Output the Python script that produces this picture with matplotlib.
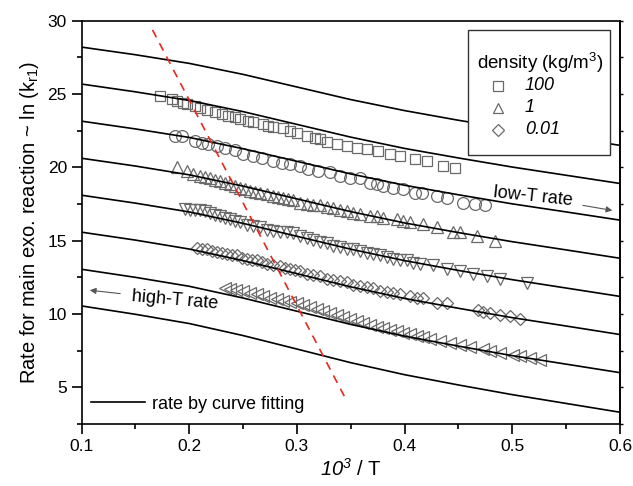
import matplotlib

matplotlib.use("Agg")
import matplotlib.pyplot as plt
from matplotlib.patches import Rectangle
from matplotlib.ticker import MultipleLocator

# fitted rate curves (read at x = 0.10 ... 0.60, step 0.05)
FIT_X = [0.10, 0.15, 0.20, 0.25, 0.30, 0.35, 0.40, 0.45, 0.50, 0.55, 0.60]
FIT_CURVES = [
    [28.20, 27.68, 27.09, 26.34, 25.48, 24.62, 23.87, 23.21, 22.61, 22.06, 21.50],
    [25.68, 25.15, 24.56, 23.80, 22.93, 22.06, 21.29, 20.64, 20.02, 19.46, 18.90],
    [23.15, 22.62, 22.04, 21.27, 20.41, 19.55, 18.78, 18.13, 17.51, 16.96, 16.40],
    [20.62, 20.09, 19.49, 18.72, 17.85, 16.98, 16.21, 15.55, 14.93, 14.37, 13.80],
    [18.10, 17.56, 16.96, 16.18, 15.30, 14.42, 13.64, 12.97, 12.34, 11.77, 11.20],
    [15.58, 15.04, 14.43, 13.64, 12.75, 11.85, 11.06, 10.39, 9.75, 9.18, 8.60],
    [13.05, 12.50, 11.89, 11.09, 10.19, 9.29, 8.49, 7.81, 7.16, 6.58, 6.00],
    [10.55, 9.98, 9.35, 8.53, 7.61, 6.68, 5.86, 5.16, 4.50, 3.90, 3.30],
]

# measured points, one series per density
SQUARE_X = [0.1733, 0.1844, 0.1891, 0.1946, 0.1983, 0.2058, 0.2104, 0.2169, 0.2243,
            0.2308, 0.2364, 0.2429, 0.2475, 0.2549, 0.2596, 0.2688, 0.2735, 0.2781,
            0.2874, 0.2939, 0.3004, 0.3096, 0.3171, 0.3217, 0.3282, 0.3375, 0.3468,
            0.3560, 0.3653, 0.3755, 0.3866, 0.3959, 0.4098, 0.4210, 0.4358, 0.4469]
SQUARE_Y = [24.89, 24.69, 24.55, 24.42, 24.35, 24.21, 24.08, 23.94, 23.80, 23.67,
            23.53, 23.46, 23.33, 23.19, 23.06, 22.99, 22.85, 22.72, 22.65, 22.51,
            22.37, 22.17, 22.03, 21.96, 21.76, 21.62, 21.49, 21.35, 21.28, 21.14,
            20.94, 20.80, 20.60, 20.46, 20.12, 19.98]

CIRCLE_X = [0.1872, 0.1937, 0.2058, 0.2123, 0.2178, 0.2262, 0.2336, 0.2429, 0.2503,
            0.2596, 0.2679, 0.2781, 0.2865, 0.2939, 0.3031, 0.3106, 0.3198, 0.3310,
            0.3403, 0.3495, 0.3588, 0.3681, 0.3746, 0.3801, 0.3894, 0.3987, 0.4098,
            0.4163, 0.4302, 0.4395, 0.4544, 0.4655, 0.4748]
CIRCLE_Y = [22.17, 22.17, 21.83, 21.69, 21.62, 21.49, 21.35, 21.15, 20.94, 20.80,
            20.67, 20.46, 20.33, 20.26, 20.12, 19.92, 19.78, 19.65, 19.44, 19.30,
            19.24, 18.96, 18.89, 18.76, 18.62, 18.55, 18.28, 18.28, 18.07, 17.94,
            17.60, 17.53, 17.40]

UP_X = [0.1891, 0.1983, 0.2039, 0.2104, 0.2150, 0.2197, 0.2243, 0.2289, 0.2336,
        0.2382, 0.2429, 0.2475, 0.2521, 0.2568, 0.2614, 0.2660, 0.2725, 0.2781,
        0.2827, 0.2874, 0.2920, 0.2967, 0.3031, 0.3096, 0.3152, 0.3217, 0.3282,
        0.3338, 0.3403, 0.3468, 0.3523, 0.3588, 0.3681, 0.3746, 0.3801, 0.3931,
        0.3987, 0.4052, 0.4173, 0.4302, 0.4451, 0.4516, 0.4673, 0.4840]
UP_Y = [19.99, 19.72, 19.58, 19.44, 19.37, 19.30, 19.17, 19.10, 18.96, 18.89,
        18.76, 18.62, 18.55, 18.42, 18.35, 18.28, 18.15, 18.08, 18.01, 17.94,
        17.81, 17.74, 17.60, 17.53, 17.46, 17.40, 17.33, 17.26, 17.12, 17.05,
        16.92, 16.85, 16.71, 16.65, 16.58, 16.51, 16.37, 16.24, 16.17, 15.90,
        15.56, 15.56, 15.35, 15.01]

DOWN_X = [0.1965, 0.2011, 0.2058, 0.2104, 0.2150, 0.2197, 0.2243, 0.2289, 0.2336,
          0.2382, 0.2429, 0.2475, 0.2540, 0.2596, 0.2660, 0.2725, 0.2781, 0.2846,
          0.2911, 0.2967, 0.3031, 0.3096, 0.3152, 0.3217, 0.3282, 0.3338, 0.3403,
          0.3468, 0.3523, 0.3588, 0.3653, 0.3709, 0.3774, 0.3839, 0.3894, 0.3959,
          0.4024, 0.4080, 0.4145, 0.4265, 0.4395, 0.4516, 0.4637, 0.4766, 0.4887,
          0.5137]
DOWN_Y = [17.19, 17.12, 17.12, 17.06, 16.99, 16.92, 16.78, 16.71, 16.58, 16.51,
          16.37, 16.24, 16.10, 16.03, 15.90, 15.76, 15.69, 15.62, 15.56, 15.49,
          15.35, 15.21, 15.08, 14.94, 14.81, 14.67, 14.60, 14.46, 14.40, 14.33,
          14.19, 14.12, 13.99, 13.92, 13.78, 13.71, 13.65, 13.51, 13.44, 13.31,
          13.10, 12.96, 12.76, 12.62, 12.42, 12.08]

DIAMOND_X = [0.2076, 0.2122, 0.2169, 0.2215, 0.2262, 0.2308, 0.2354, 0.2401, 0.2447,
             0.2494, 0.2540, 0.2586, 0.2633, 0.2679, 0.2725, 0.2781, 0.2846, 0.2892,
             0.2939, 0.2985, 0.3031, 0.3096, 0.3152, 0.3217, 0.3282, 0.3338, 0.3403,
             0.3468, 0.3523, 0.3588, 0.3653, 0.3709, 0.3774, 0.3839, 0.3894, 0.3959,
             0.4052, 0.4117, 0.4173, 0.4302, 0.4395, 0.4683, 0.4729, 0.4794, 0.4887,
             0.4980, 0.5072]
DIAMOND_Y = [14.53, 14.46, 14.40, 14.33, 14.26, 14.19, 14.12, 14.05, 13.99, 13.85,
             13.78, 13.71, 13.65, 13.58, 13.44, 13.37, 13.24, 13.17, 13.10, 13.03,
             12.90, 12.76, 12.69, 12.56, 12.42, 12.35, 12.22, 12.15, 12.01, 11.94,
             11.81, 11.74, 11.60, 11.53, 11.40, 11.33, 11.26, 11.12, 11.06, 10.78,
             10.72, 10.24, 10.17, 10.10, 9.90, 9.83, 9.69]

LEFT_X = [0.2336, 0.2382, 0.2438, 0.2503, 0.2568, 0.2633, 0.2688, 0.2753, 0.2818,
          0.2874, 0.2939, 0.3004, 0.3059, 0.3124, 0.3189, 0.3245, 0.3310, 0.3375,
          0.3430, 0.3495, 0.3560, 0.3616, 0.3681, 0.3746, 0.3801, 0.3866, 0.3931,
          0.3987, 0.4052, 0.4117, 0.4173, 0.4238, 0.4330, 0.4423, 0.4516, 0.4609,
          0.4729, 0.4794, 0.4887, 0.5007, 0.5072, 0.5165, 0.5258]
LEFT_Y = [11.77, 11.71, 11.64, 11.57, 11.43, 11.37, 11.23, 11.09, 11.02, 10.89,
          10.82, 10.75, 10.61, 10.48, 10.34, 10.21, 10.07, 9.93, 9.80, 9.66,
          9.53, 9.39, 9.25, 9.12, 9.05, 8.91, 8.84, 8.71, 8.64, 8.50,
          8.44, 8.30, 8.16, 8.03, 7.89, 7.76, 7.62, 7.48, 7.35, 7.21,
          7.14, 7.01, 6.87]

# red dashed guide line (end points)
GUIDE_X = [0.1659, 0.3458]
GUIDE_Y = [29.37, 4.14]

LEGEND_LABELS = ["100", "1", "0.01"]
LEGEND_MARKERS = ["s", "^", "D"]

GRAY = "#6a6a6a"


def configure_style():
    plt.rcParams.update(
        {
            "font.family": ["Liberation Sans", "DejaVu Sans"],
            "mathtext.fontset": "custom",
            "mathtext.rm": "Liberation Sans",
            "mathtext.it": "Liberation Sans:italic",
            # italic digits for the x label (mathtext keeps digits upright in \mathit)
            "mathtext.sf": "Liberation Sans:italic",
            "mathtext.bf": "Liberation Sans:bold",
            "font.size": 12.5,
            "axes.linewidth": 1.2,
        }
    )


def draw_data(ax):
    series = [
        (SQUARE_X, SQUARE_Y, "s", 7.5),
        (CIRCLE_X, CIRCLE_Y, "o", 8.5),
        (UP_X, UP_Y, "^", 8.5),
        (DOWN_X, DOWN_Y, "v", 8.5),
        (DIAMOND_X, DIAMOND_Y, "D", 6.5),
        (LEFT_X, LEFT_Y, "<", 8.0),
    ]
    for xs, ys, marker, size in series:
        ax.plot(xs, ys, ls="none", marker=marker, ms=size, mfc="none",
                mec=GRAY, mew=0.9, zorder=2)

    fit_line = None
    for ys in FIT_CURVES:
        (fit_line,) = ax.plot(FIT_X, ys, color="black", lw=1.2, zorder=3)

    ax.plot(GUIDE_X, GUIDE_Y, color="#e8281e", lw=1.2, ls=(0, (5, 4)), zorder=4)
    return fit_line


def draw_annotations(ax):
    ax.text(0.519, 18.0, "low-T rate", fontsize=13, rotation=-6,
            ha="center", va="center")
    ax.annotate("", xy=(0.5954, 17.03), xytext=(0.5629, 17.44),
                arrowprops=dict(arrowstyle="-|>", color="#555555", lw=0.8,
                                mutation_scale=9))
    ax.text(0.1868, 10.96, "high-T rate", fontsize=13, rotation=-5,
            ha="center", va="center")
    ax.annotate("", xy=(0.1051, 11.64), xytext=(0.1385, 11.37),
                arrowprops=dict(arrowstyle="-|>", color="#555555", lw=0.8,
                                mutation_scale=9))


def draw_density_legend(ax):
    box = Rectangle((0.7177, 0.667), 0.2637, 0.3099, transform=ax.transAxes,
                    facecolor="white", edgecolor="#333333", lw=1.0, zorder=5)
    ax.add_patch(box)
    ax.text(0.8514, 0.895, "density (kg/m$^3$)", transform=ax.transAxes,
            ha="center", va="center", fontsize=13.5, zorder=6)
    rows = [0.8383, 0.7838, 0.7292]
    for y, marker, label in zip(rows, LEGEND_MARKERS, LEGEND_LABELS):
        ax.plot([0.7734], [y], transform=ax.transAxes, ls="none", marker=marker,
                ms=7.0 if marker != "D" else 6.0, mfc="none", mec=GRAY, mew=0.9,
                zorder=6, clip_on=False)
        ax.text(0.8235, y, label, transform=ax.transAxes, style="italic",
                fontsize=13, ha="left", va="center", zorder=6)


def main():
    configure_style()
    fig = plt.figure(figsize=(6.33, 4.86), dpi=100)
    ax = fig.add_axes([0.1288, 0.1276, 0.8507, 0.8298])

    fit_line = draw_data(ax)
    draw_annotations(ax)
    draw_density_legend(ax)
    ax.legend([fit_line], ["rate by curve fitting"], loc="lower left",
              bbox_to_anchor=(-0.012, -0.012), frameon=False, handlelength=3.0,
              handletextpad=0.35, fontsize=13)

    ax.set_xlim(0.1, 0.6)
    ax.set_ylim(2.5, 30)
    ax.xaxis.set_major_locator(MultipleLocator(0.1))
    ax.xaxis.set_minor_locator(MultipleLocator(0.05))
    ax.yaxis.set_major_locator(MultipleLocator(5))
    ax.yaxis.set_minor_locator(MultipleLocator(2.5))
    ax.tick_params(which="major", direction="out", length=7, width=1.2, labelsize=12.5)
    ax.tick_params(which="minor", direction="out", length=3.5, width=1.2)

    right = ax.secondary_yaxis("right")
    right.set_yticks([2.5 * k for k in range(1, 13)])
    right.tick_params(direction="out", length=2.5, width=1.0, labelright=False)

    ax.set_xlabel(r"$\mathsf{10}^{\mathsf{3}}$ / T", fontsize=14.5, labelpad=3)
    ax.set_ylabel(r"Rate for main exo. reaction ~ ln (k$_{\mathrm{r1}}$)",
                  fontsize=14.5, labelpad=5)

    fig.savefig("out.png", dpi=100)
    plt.close(fig)


if __name__ == "__main__":
    main()
